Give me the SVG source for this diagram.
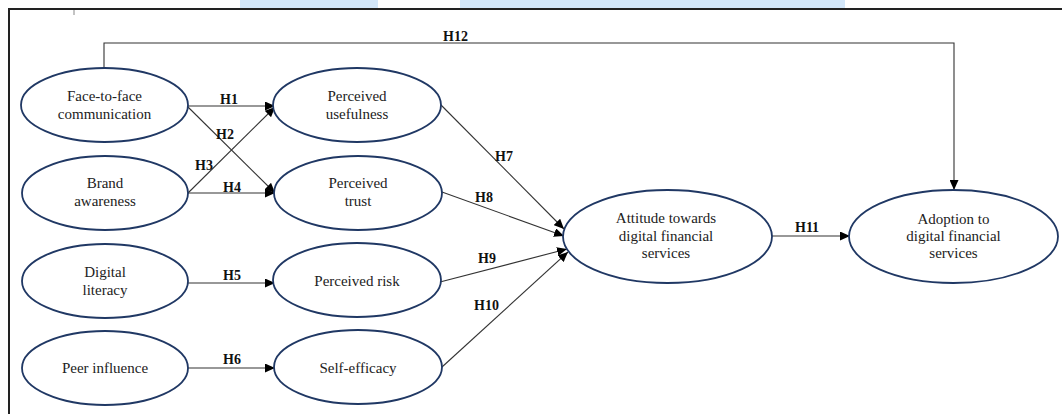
<svg xmlns="http://www.w3.org/2000/svg" width="1062" height="414" viewBox="0 0 1062 414">
<style>
.bg{fill:#ffffff}
.band{fill:#d3e7fa}
.frame{fill:none;stroke:#222;stroke-width:2}
.node{fill:#ffffff;stroke:#203864;stroke-width:1.8}
.lbl{font-family:'Liberation Serif','Times New Roman','DejaVu Serif',serif;font-size:15px;fill:#222;text-anchor:middle}
.h{font-family:'Liberation Serif','Times New Roman','DejaVu Serif',serif;font-size:14px;font-weight:bold;fill:#111}
.edge{fill:none;stroke:#333;stroke-width:1.1}
</style>
<defs>
<marker id="arr" markerUnits="userSpaceOnUse" markerWidth="11" markerHeight="9" refX="10" refY="4.5" orient="auto" viewBox="0 0 11 9">
<path d="M0,0 L10,4.5 L0,9 z" fill="#000"/>
</marker>
</defs>
<rect class="bg" x="0" y="0" width="1062" height="414"/>
<rect class="band" x="240" y="0" width="138" height="8"/>
<rect class="band" x="460" y="0" width="385" height="8"/>
<path class="frame" d="M9,414 V9 H1062"/>
<line x1="74" y1="10" x2="74" y2="15" stroke="#888" stroke-width="1"/>

<g id="connectors">
<line class="edge" x1="188" y1="106" x2="275" y2="106" marker-end="url(#arr)"/>
<line class="edge" x1="188" y1="107" x2="275" y2="193" marker-end="url(#arr)"/>
<line class="edge" x1="188" y1="193" x2="275" y2="107" marker-end="url(#arr)"/>
<line class="edge" x1="188" y1="193" x2="275" y2="193" marker-end="url(#arr)"/>
<line class="edge" x1="188" y1="283" x2="275" y2="283" marker-end="url(#arr)"/>
<line class="edge" x1="188" y1="368" x2="275" y2="368" marker-end="url(#arr)"/>
<line class="edge" x1="441" y1="105" x2="564" y2="229" marker-end="url(#arr)"/>
<line class="edge" x1="442" y1="192" x2="564" y2="236" marker-end="url(#arr)"/>
<line class="edge" x1="440" y1="282" x2="567" y2="249" marker-end="url(#arr)"/>
<line class="edge" x1="442" y1="367" x2="568" y2="252" marker-end="url(#arr)"/>
<line class="edge" x1="772" y1="236" x2="850" y2="236" marker-end="url(#arr)"/>
<path class="edge" d="M104,68 V43 H954 V190" marker-end="url(#arr)"/>
<text class="h" x="220" y="104">H1</text>
<text class="h" x="216" y="139">H2</text>
<text class="h" x="195" y="170">H3</text>
<text class="h" x="223" y="192">H4</text>
<text class="h" x="223" y="280">H5</text>
<text class="h" x="223" y="364">H6</text>
<text class="h" x="495" y="161">H7</text>
<text class="h" x="475" y="202">H8</text>
<text class="h" x="478" y="263">H9</text>
<text class="h" x="474" y="310">H10</text>
<text class="h" x="795" y="232">H11</text>
<text class="h" x="443" y="41">H12</text>
</g>

<g id="face-to-face">
<ellipse class="node" cx="104.5" cy="105" rx="83.5" ry="37"/>
<text class="lbl" x="104.5" y="101">Face-to-face</text>
<text class="lbl" x="104.5" y="119">communication</text>
</g>
<g id="brand-awareness">
<ellipse class="node" cx="105" cy="193" rx="83" ry="37"/>
<text class="lbl" x="105" y="188">Brand</text>
<text class="lbl" x="105" y="206">awareness</text>
</g>
<g id="digital-literacy">
<ellipse class="node" cx="105" cy="281" rx="83" ry="37"/>
<text class="lbl" x="105" y="277">Digital</text>
<text class="lbl" x="105" y="295">literacy</text>
</g>
<g id="peer-influence">
<ellipse class="node" cx="105" cy="368" rx="83" ry="37"/>
<text class="lbl" x="105" y="373">Peer influence</text>
</g>
<g id="perceived-usefulness">
<ellipse class="node" cx="357" cy="105" rx="84" ry="37"/>
<text class="lbl" x="357" y="101">Perceived</text>
<text class="lbl" x="357" y="119">usefulness</text>
</g>
<g id="perceived-trust">
<ellipse class="node" cx="358" cy="193" rx="84" ry="37"/>
<text class="lbl" x="358" y="188">Perceived</text>
<text class="lbl" x="358" y="206">trust</text>
</g>
<g id="perceived-risk">
<ellipse class="node" cx="357" cy="280" rx="84" ry="37"/>
<text class="lbl" x="357" y="286">Perceived risk</text>
</g>
<g id="self-efficacy">
<ellipse class="node" cx="358" cy="367" rx="84" ry="37"/>
<text class="lbl" x="358" y="373">Self-efficacy</text>
</g>
<g id="attitude">
<ellipse class="node" cx="667.5" cy="236.5" rx="104.5" ry="46.5"/>
<text class="lbl" x="666" y="223">Attitude towards</text>
<text class="lbl" x="666" y="241">digital financial</text>
<text class="lbl" x="666" y="258">services</text>
</g>
<g id="adoption">
<ellipse class="node" cx="953.5" cy="236.5" rx="104.5" ry="46.5"/>
<text class="lbl" x="953.5" y="224">Adoption to</text>
<text class="lbl" x="953.5" y="241">digital financial</text>
<text class="lbl" x="953.5" y="258">services</text>
</g>
</svg>
